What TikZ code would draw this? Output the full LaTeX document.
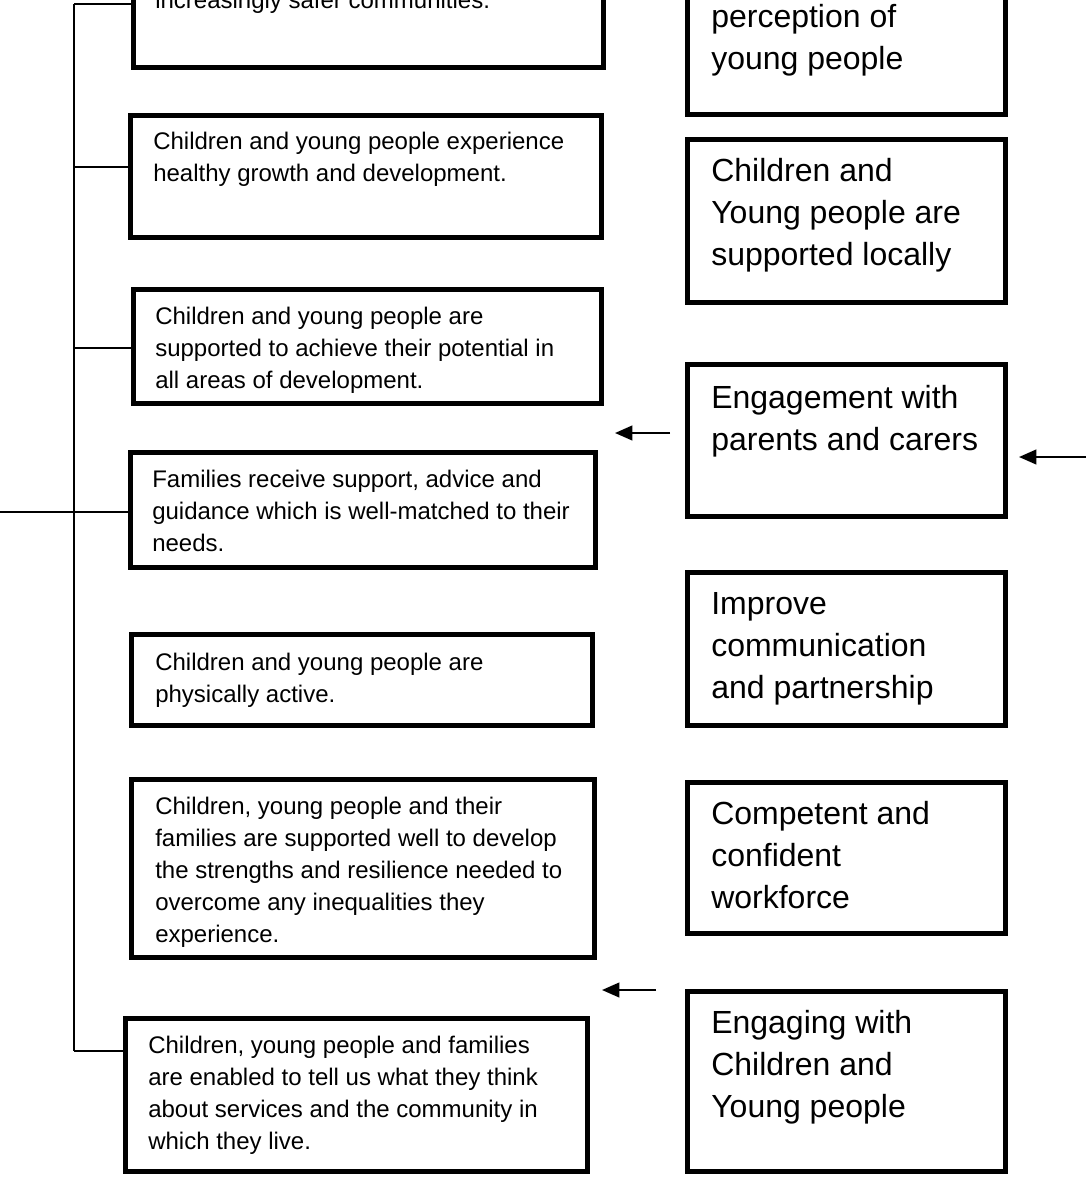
\documentclass[tikz,border=0pt]{standalone}
\usepackage{fontspec}
\setmainfont{Liberation Sans}
\usetikzlibrary{fit,arrows.meta}
\tikzset{
  box/.style={draw=black, fill=white, line width=3.6pt, inner sep=0pt, rectangle},
  ltext/.style={anchor=base west, inner sep=0pt, font=\fontsize{18}{24}\selectfont},
  rtext/.style={anchor=base west, inner sep=0pt, font=\fontsize{24}{31.5}\selectfont},
  conn/.style={draw=black, line width=1.2pt},
  arr/.style={draw=black, line width=1.6pt, -{Triangle[length=13pt,width=11pt]}}
}
\newcommand{\lns}[1]{\vtop{#1}}
\begin{document}
\begin{tikzpicture}[x=0.75pt,y=-0.75pt]
\useasboundingbox (0,0) rectangle (1086,1177);
\begin{scope}
\clip (0,0) rectangle (1086,1177);
\fill[white] (0,0) rectangle (1086,1177);
% connectors
\coordinate (top) at (74,4);
\coordinate (bot) at (74,1051);
\coordinate (jB) at (74,167);
\coordinate (jC) at (74,348);
\coordinate (in) at (0,512);
% left boxes
\node[box, fit={(133.5,-60) (603.5,67.5)}] (A) {};
\node[box, fit={(130.5,115.5) (601.5,237.5)}] (B) {};
\node[box, fit={(133.5,289.5) (601.5,403.5)}] (C) {};
\node[box, fit={(130.5,452.5) (595.5,567.5)}] (D) {};
\node[box, fit={(131.5,634.5) (592.5,725.5)}] (E) {};
\node[box, fit={(131.5,779.5) (594.5,957.5)}] (F) {};
\node[box, fit={(125.5,1018.5) (587.5,1171.5)}] (G) {};
% right boxes
\node[box, fit={(687.5,-60) (1005.5,114.5)}] (R1) {};
\node[box, fit={(687.5,139.5) (1005.5,302.5)}] (R2) {};
\node[box, fit={(687.5,364.5) (1005.5,516.5)}] (R3) {};
\node[box, fit={(687.5,572.5) (1005.5,725.5)}] (R4) {};
\node[box, fit={(687.5,782.5) (1005.5,933.5)}] (R5) {};
\node[box, fit={(687.5,991.5) (1005.5,1171.5)}] (R6) {};
% connector lines
\draw[conn] (top) -- (bot);
\draw[conn] (top) -- (top -| A.west);
\draw[conn] (jB) -- (jB -| B.west);
\draw[conn] (jC) -- (jC -| C.west);
\draw[conn] (in) -- (in -| D.west);
\draw[conn] (bot) -- (bot -| G.west);
% left texts
\node[ltext] (tA) at (155,9) {increasingly safer communities.};
\node[ltext] (tB) at (153,150) {\lns{\hbox{Children and young people experience}\hbox{healthy growth and development.}}};
\node[ltext] (tC) at (155,324) {\lns{\hbox{Children and young people are}\hbox{supported to achieve their potential in}\hbox{all areas of development.}}};
\node[ltext] (tD) at (152,487) {\lns{\hbox{Families receive support, advice and}\hbox{guidance which is well-matched to their}\hbox{needs.}}};
\node[ltext] (tE) at (155,670) {\lns{\hbox{Children and young people are}\hbox{physically active.}}};
\node[ltext] (tF) at (155,814) {\lns{\hbox{Children, young people and their}\hbox{families are supported well to develop}\hbox{the strengths and resilience needed to}\hbox{overcome any inequalities they}\hbox{experience.}}};
\node[ltext] (tG) at (148,1053) {\lns{\hbox{Children, young people and families}\hbox{are enabled to tell us what they think}\hbox{about services and the community in}\hbox{which they live.}}};
% right texts
\node[rtext] (tR1) at (711,28) {\lns{\hbox{perception of}\hbox{young people}}};
\node[rtext] (tR2) at (711,181) {\lns{\hbox{Children and}\hbox{Young people are}\hbox{supported locally}}};
\node[rtext] (tR3) at (711,408) {\lns{\hbox{Engagement with}\hbox{parents and carers}}};
\node[rtext] (tR4) at (711,614) {\lns{\hbox{Improve}\hbox{communication}\hbox{and partnership}}};
\node[rtext] (tR5) at (711,824) {\lns{\hbox{Competent and}\hbox{confident}\hbox{workforce}}};
\node[rtext] (tR6) at (711,1033) {\lns{\hbox{Engaging with}\hbox{Children and}\hbox{Young people}}};
% arrows
\coordinate (a1s) at (670,433); \coordinate (a1e) at (615,433);
\coordinate (a2s) at (1086,457); \coordinate (a2e) at (1019,457);
\coordinate (a3s) at (656,990); \coordinate (a3e) at (602,990);
\draw[arr] (a1s) -- (a1e);
\draw[arr] (a2s) -- (a2e);
\draw[arr] (a3s) -- (a3e);
\end{scope}
\end{tikzpicture}
\end{document}
